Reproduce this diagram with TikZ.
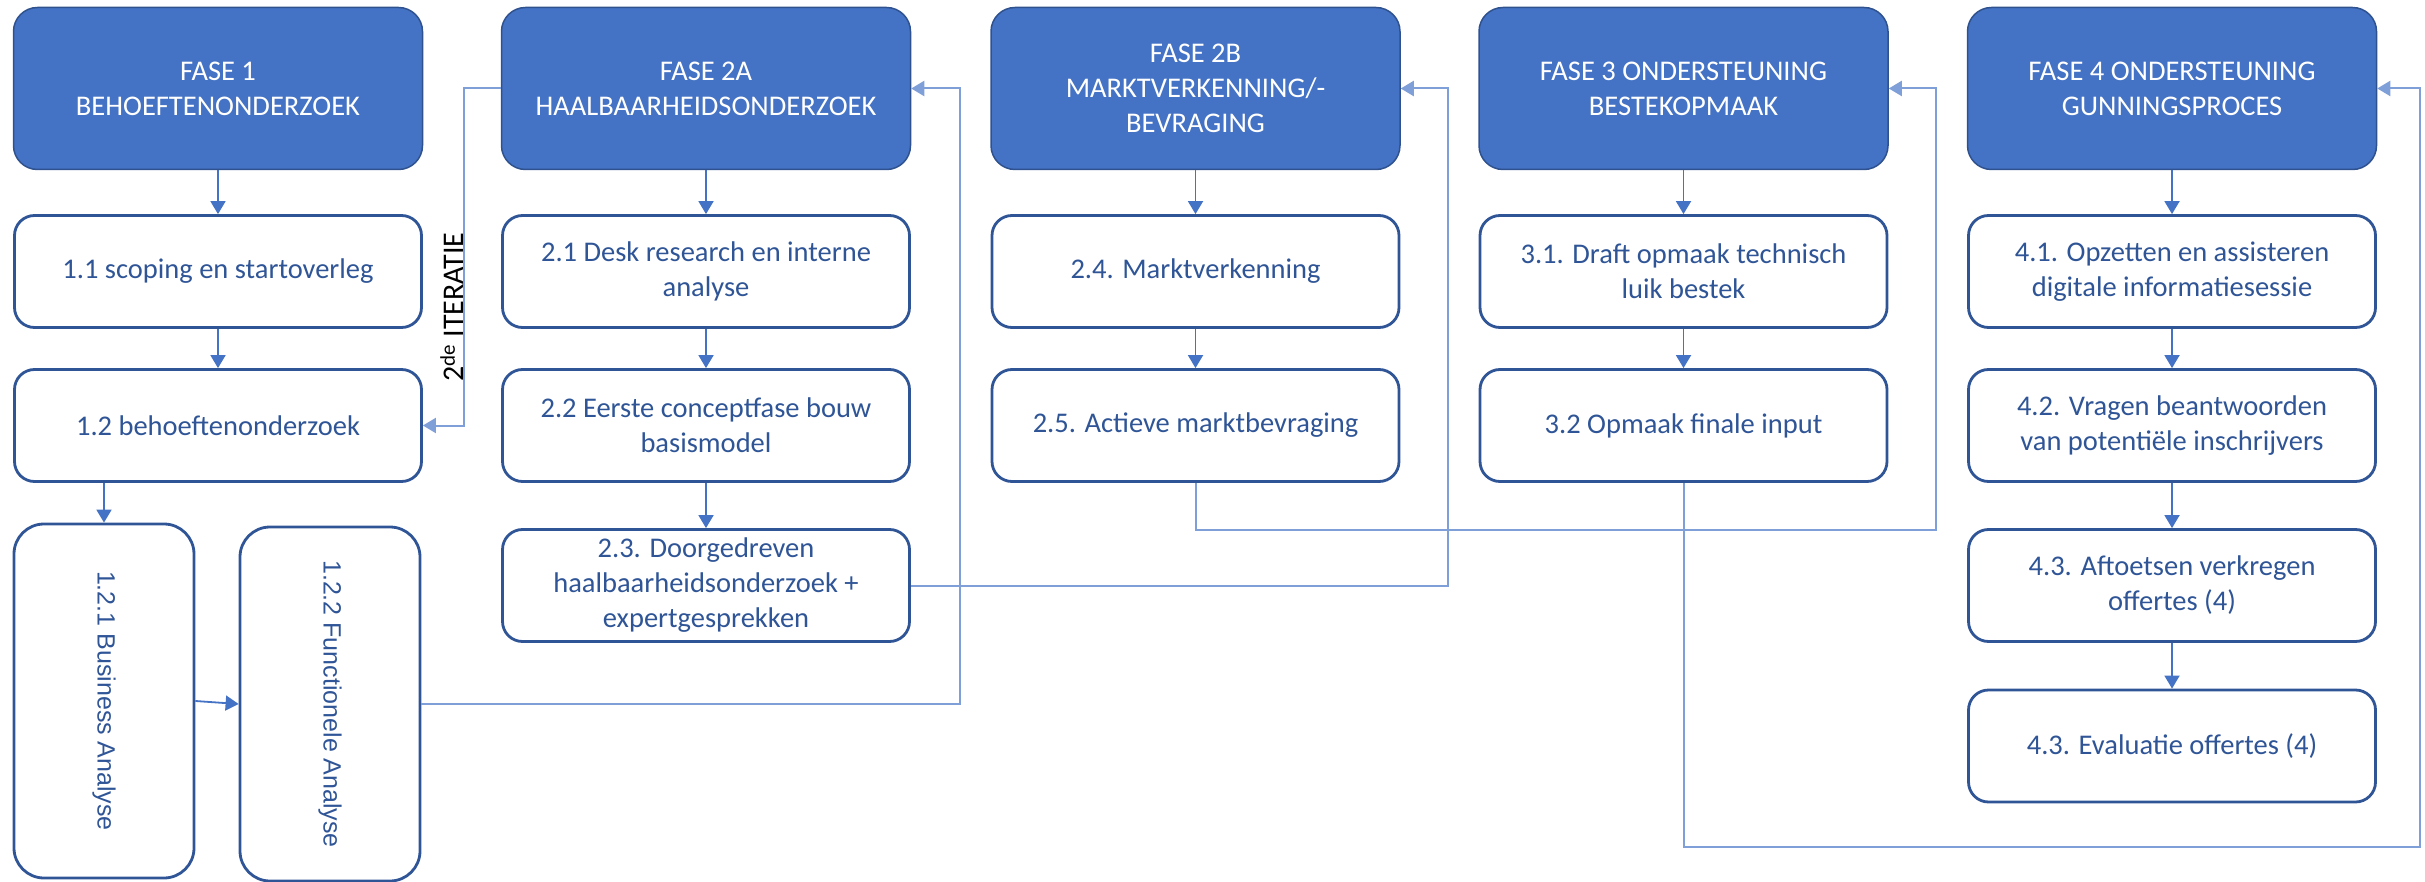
\documentclass[tikz,border=0pt]{standalone}
\usepackage{fontspec}
\usepackage{graphicx}
\setmainfont{Carlito}
\newfontfamily\arialfont{Liberation Sans}
\usetikzlibrary{arrows.meta}
\definecolor{fasefill}{HTML}{4472C4}
\definecolor{faserand}{HTML}{2F528F}
\definecolor{taakblauw}{HTML}{2F5597}
\definecolor{lijnblauw}{HTML}{4472C4}
\definecolor{lichtblauw}{HTML}{7F9FD9}
\tikzset{
  fase/.style={draw=faserand, fill=fasefill, line width=1.5pt, rounded corners=24pt,
    text=white, align=center, minimum width=409pt, minimum height=162pt, inner sep=0pt,
    font=\fontsize{28.5}{35}\selectfont},
  taak/.style={draw=taakblauw, line width=2.8pt, rounded corners=20pt, fill=white,
    text=taakblauw, align=center, minimum width=407pt, minimum height=112pt, inner sep=0pt,
    font=\fontsize{28.5}{35}\selectfont},
  staand/.style={draw=taakblauw, line width=2.8pt, rounded corners=30pt,
    text=taakblauw, minimum width=180pt, minimum height=354pt, inner sep=0pt,
    font=\arialfont\fontsize{25}{30}\selectfont},
  pijl/.style={draw=lijnblauw, line width=1.8pt, -{Triangle[width=15pt,length=13pt]}},
  terug/.style={draw=lichtblauw, line width=2pt, -{Triangle[width=15pt,length=13pt]}}
}
\begin{document}
\begin{tikzpicture}[x=1pt,y=-1pt]
\useasboundingbox (0,0) rectangle (2425,882);
% fasen
\node[fase] (f1) at (218,88.5) {FASE 1\\BEHOEFTENONDERZOEK};
\node[fase] (f2a) at (706,88.5) {FASE 2A\\HAALBAARHEIDSONDERZOEK};
\node[fase] (f2b) at (1195.5,88.5) {FASE 2B\\MARKTVERKENNING/-\\BEVRAGING};
\node[fase] (f3) at (1683.5,88.5) {FASE 3 ONDERSTEUNING\\BESTEKOPMAAK};
\node[fase] (f4) at (2172,88.5) {FASE 4 ONDERSTEUNING\\GUNNINGSPROCES};
% taken
\node[taak] (t11) at (218,271.5) {1.1 scoping en startoverleg};
\node[taak] (t12) at (218,425.5) {1.2 behoeftenonderzoek};
\node[staand] (b121) at (104,701) {\rotatebox{-90}{1.2.1 Business Analyse}};
\node[staand] (b122) at (330,704) {\rotatebox{-90}{1.2.2 Functionele Analyse}};
\node[taak] (t21) at (706,271.5) {2.1 Desk research en interne\\analyse};
\node[taak] (t22) at (706,425.5) {2.2 Eerste conceptfase bouw\\basismodel};
\node[taak] (t23) at (706,585.5) {2.3. Doorgedreven\\haalbaarheidsonderzoek +\\expertgesprekken};
\node[taak] (t24) at (1195.5,271.5) {2.4. Marktverkenning};
\node[taak] (t25) at (1195.5,425.5) {2.5. Actieve marktbevraging};
\node[taak] (t31) at (1683.5,271.5) {3.1. Draft opmaak technisch\\luik bestek};
\node[taak] (t32) at (1683.5,425.5) {3.2 Opmaak finale input};
\node[taak] (t41) at (2172,271.5) {4.1. Opzetten en assisteren\\digitale informatiesessie};
\node[taak] (t42) at (2172,425.5) {4.2. Vragen beantwoorden\\van potentiële inschrijvers};
\node[taak] (t43a) at (2172,585.5) {4.3. Aftoetsen verkregen\\offertes (4)};
\node[taak] (t43b) at (2172,746) {4.3. Evaluatie offertes (4)};
\node[rotate=90, inner sep=0pt, font=\fontsize{30}{36}\selectfont] (iter) at (452,307) {2\textsuperscript{de} ITERATIE};
% pijlen binnen een fase
\draw[pijl] (f1) -- (t11);
\draw[pijl] (t11) -- (t12);
\draw[pijl] (t12.south -| b121) -- (b121);
\draw[pijl] (b121.east) -- (b122.west);
\draw[pijl] (f2a) -- (t21);
\draw[pijl] (t21) -- (t22);
\draw[pijl] (t22) -- (t23);
\draw[pijl] (f2b) -- (t24);
\draw[pijl] (t24) -- (t25);
\draw[pijl] (f3) -- (t31);
\draw[pijl] (t31) -- (t32);
\draw[pijl] (f4) -- (t41);
\draw[pijl] (t41) -- (t42);
\draw[pijl] (t42) -- (t43a);
\draw[pijl] (t43a) -- (t43b);
% terugkoppelingen
\coordinate (kiter) at (464,88.5);
\coordinate (k2a) at (960,88.5);
\coordinate (k2b) at (1448,88.5);
\coordinate (k3) at (1936,88.5);
\coordinate (k3onder) at (1936,530);
\coordinate (k4) at (2420,88.5);
\coordinate (k4onder) at (2420,847);
\draw[terug] (f2a.west) -- (kiter) |- (t12.east);
\draw[terug] (b122.east) -| (k2a) -- (f2a.east);
\draw[terug] (t23.east) -| (k2b) -- (f2b.east);
\draw[terug] (t25.south) |- (k3onder) -- (k3) -- (f3.east);
\draw[terug] (t32.south) |- (k4onder) -- (k4) -- (f4.east);
\end{tikzpicture}
\end{document}
